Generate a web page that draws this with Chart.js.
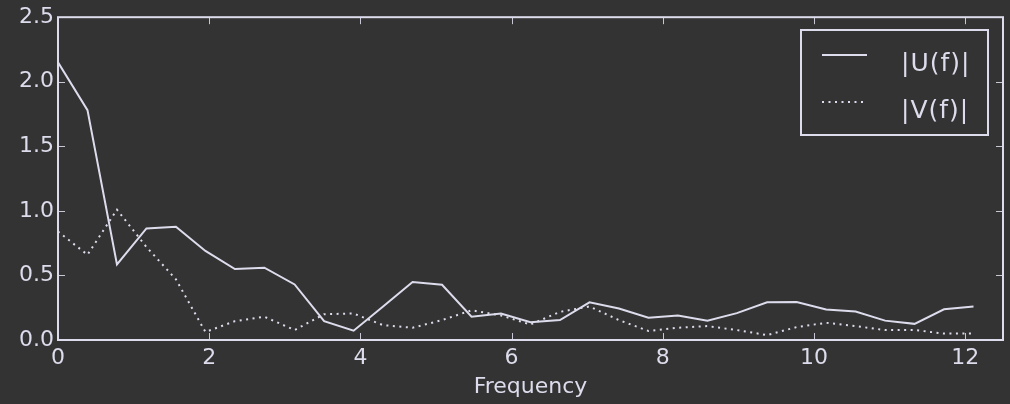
<!DOCTYPE html>
<html>
<head>
<meta charset="utf-8">
<script src="https://cdn.jsdelivr.net/npm/chart.js@4/dist/chart.umd.min.js"></script>
<style>
  html, body { margin: 0; padding: 0; background: #333333; }
  #wrap { width: 1010px; height: 404px; position: relative; }
</style>
</head>
<body>
<div id="wrap"><canvas id="c" width="1010" height="404"></canvas></div>
<script>
// ---- data ----
const frequencies = [0, 0.39, 0.78, 1.17, 1.56, 1.95, 2.34, 2.73, 3.13, 3.52, 3.91, 4.30,
  4.69, 5.08, 5.47, 5.86, 6.25, 6.64, 7.03, 7.42, 7.81, 8.20, 8.59, 8.98, 9.38, 9.77,
  10.16, 10.55, 10.94, 11.33, 11.72, 12.11];
const uValues = [2.15, 1.78, 0.585, 0.864, 0.877, 0.69, 0.55, 0.56, 0.43, 0.146, 0.072, 0.26,
  0.449, 0.428, 0.18, 0.205, 0.138, 0.154, 0.292, 0.244, 0.172, 0.19, 0.15, 0.208, 0.292, 0.295,
  0.236, 0.22, 0.15, 0.125, 0.238, 0.259];
const vValues = [0.84, 0.66, 1.01, 0.72, 0.47, 0.062, 0.146, 0.18, 0.077, 0.2, 0.205, 0.115,
  0.095, 0.154, 0.23, 0.19, 0.12, 0.218, 0.26, 0.154, 0.07, 0.095, 0.108, 0.077, 0.038, 0.10,
  0.133, 0.108, 0.077, 0.077, 0.05, 0.05];
const seriesLabels = ['|U(f)|', '|V(f)|'];
const xTicks = [0, 2, 4, 6, 8, 10, 12];
const yTicks = [0, 0.5, 1.0, 1.5, 2.0, 2.5];
const xLabel = 'Frequency';

// ---- style ----
const FG = '#dcdcec';
const TICKC = '#c8c8d4';
const FONT = 'DejaVu Sans';

const toPts = (vals) => vals.map((v, i) => ({ x: frequencies[i], y: v }));

const framePlugin = {
  id: 'frame',
  afterDatasetsDraw(chart) {
    const { ctx, chartArea: a, scales } = chart;
    ctx.save();
    // ticks (inward, all four sides)
    ctx.strokeStyle = TICKC;
    ctx.lineWidth = 1;
    const tl = 7;
    ctx.beginPath();
    xTicks.forEach(v => {
      const px = Math.round(scales.x.getPixelForValue(v)) + 0.5;
      ctx.moveTo(px, a.bottom); ctx.lineTo(px, a.bottom - tl);
      ctx.moveTo(px, a.top); ctx.lineTo(px, a.top + tl);
    });
    yTicks.forEach(v => {
      const py = Math.round(scales.y.getPixelForValue(v)) + 0.5;
      ctx.moveTo(a.left, py); ctx.lineTo(a.left + tl, py);
      ctx.moveTo(a.right, py); ctx.lineTo(a.right - tl, py);
    });
    ctx.stroke();
    // frame
    ctx.strokeStyle = FG;
    ctx.lineWidth = 2;
    ctx.strokeRect(a.left, a.top, a.right - a.left, a.bottom - a.top);

    // legend
    const lx = 801, ly = 30, lw = 187, lh = 105;
    ctx.fillStyle = '#333333';
    ctx.fillRect(lx, ly, lw, lh);
    ctx.strokeStyle = FG;
    ctx.lineWidth = 2;
    ctx.strokeRect(lx, ly, lw, lh);
    const rows = [55, 102];
    chart.data.datasets.forEach((ds, i) => {
      ctx.beginPath();
      ctx.strokeStyle = FG;
      ctx.lineWidth = 2;
      ctx.setLineDash(ds.borderDash || []);
      ctx.moveTo(822, rows[i]); ctx.lineTo(867, rows[i]);
      ctx.stroke();
      ctx.setLineDash([]);
      ctx.fillStyle = FG;
      ctx.font = '25px "' + FONT + '"';
      ctx.textAlign = 'left';
      ctx.textBaseline = 'alphabetic';
      try { ctx.letterSpacing = '1px'; } catch (e) {}
      ctx.fillText(ds.label, 901, rows[i] + 16);
      try { ctx.letterSpacing = '0px'; } catch (e) {}
    });
    ctx.restore();
  }
};

new Chart(document.getElementById('c'), {
  type: 'line',
  data: {
    datasets: [
      {
        label: seriesLabels[0],
        data: toPts(uValues),
        borderColor: FG,
        borderWidth: 2,
        pointRadius: 0,
        tension: 0,
        fill: false
      },
      {
        label: seriesLabels[1],
        data: toPts(vValues),
        borderColor: FG,
        borderWidth: 2,
        borderDash: [2, 4.5],
        pointRadius: 0,
        tension: 0,
        fill: false
      }
    ]
  },
  options: {
    responsive: false,
    animation: false,
    layout: { padding: { top: 15, right: 7, left: 0, bottom: 3 } },
    plugins: { legend: { display: false }, tooltip: { enabled: false } },
    scales: {
      x: {
        type: 'linear',
        min: 0, max: 12.5,
        afterBuildTicks: (s) => { s.ticks = xTicks.map(v => ({ value: v })); },
        afterFit: (s) => { s.height = 61; },
        grid: { display: false, drawTicks: false },
        border: { display: false },
        ticks: {
          color: FG, padding: 5, maxRotation: 0, autoSkip: false,
          font: { family: FONT, size: 22 },
          callback: (v) => String(v)
        },
        title: {
          display: true, text: xLabel, color: FG,
          font: { family: FONT, size: 22 }, padding: { top: 0, bottom: 1 }
        }
      },
      y: {
        type: 'linear',
        min: 0, max: 2.5,
        afterBuildTicks: (s) => { s.ticks = yTicks.map(v => ({ value: v })); },
        afterFit: (s) => { s.width = 58; },
        grid: { display: false, drawTicks: false },
        border: { display: false },
        ticks: {
          color: FG, padding: 4,
          font: { family: FONT, size: 22 },
          callback: (v) => Number(v).toFixed(1)
        }
      }
    }
  },
  plugins: [framePlugin]
});
</script>
</body>
</html>
